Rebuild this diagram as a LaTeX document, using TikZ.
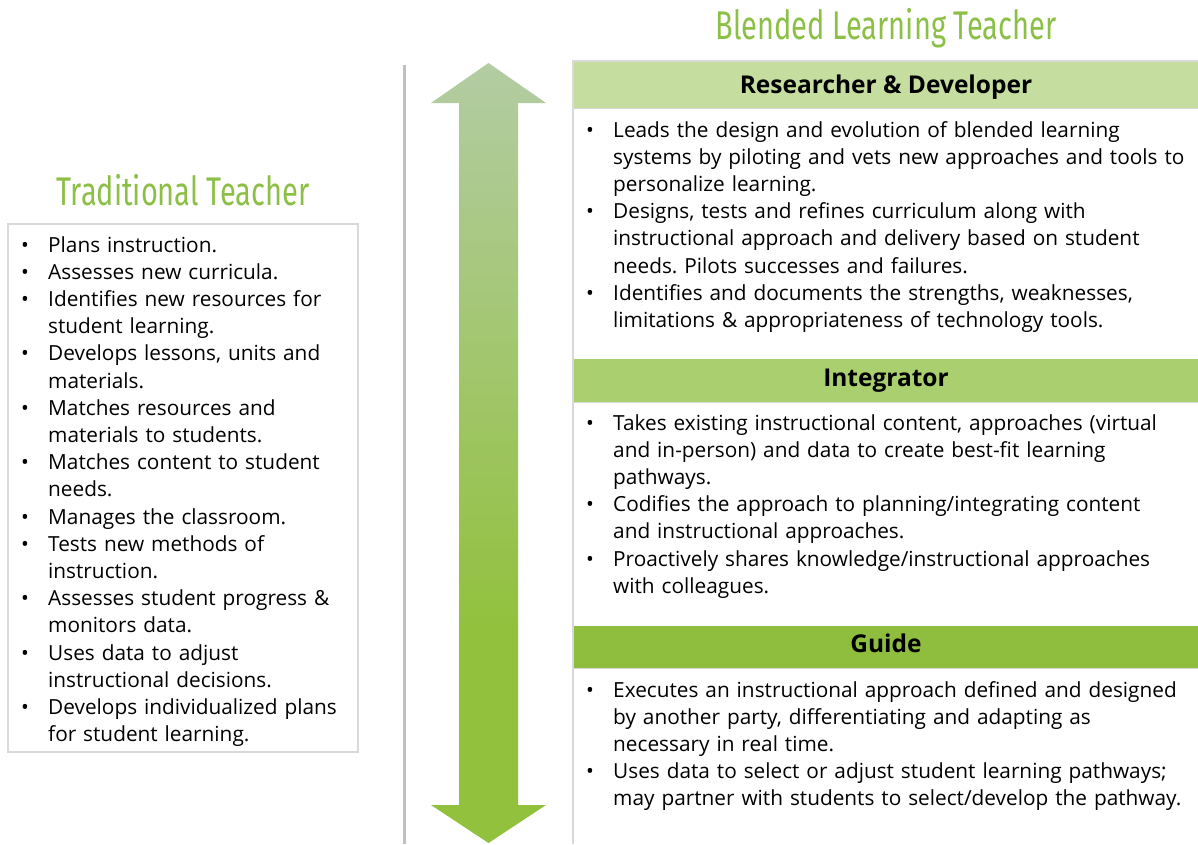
\documentclass[tikz,border=0pt]{standalone}
\usepackage{fontspec}
\setmainfont{Open Sans}
\newfontfamily\titlefont[FakeStretch=0.725]{Fira Sans}
\usetikzlibrary{positioning}
\frenchspacing

\definecolor{titlegreen}{HTML}{8CBF45}
\definecolor{headlight}{HTML}{C5DD9F}
\definecolor{headmid}{HTML}{A9CF6F}
\definecolor{headdark}{HTML}{8FBE3E}
\definecolor{arrowtop}{HTML}{B3CCA3}
\definecolor{arrowbot}{HTML}{92C13E}
\definecolor{framegray}{HTML}{D9D9D9}
\definecolor{dividergray}{HTML}{BFBFBF}

\pgfdeclareverticalshading{arrowfade}{100bp}{color(0bp)=(arrowbot); color(39bp)=(arrowbot); color(75bp)=(arrowtop); color(100bp)=(arrowtop)}

% bullet item with hanging indent
\newcommand\bul[1]{\hangindent=27pt\hangafter=1\noindent\makebox[27pt][l]{\textbullet}#1\par}

\tikzset{
	heading/.style={font=\titlefont\fontsize{40}{40}\selectfont, text=titlegreen, inner sep=0pt, anchor=base},
	bandtext/.style={font=\bfseries\fontsize{24.5}{28}\selectfont, inner sep=0pt, anchor=base},
	bullets/.style={font=\fontsize{20.8}{27.2}\selectfont, align=left, text width=620pt, inner sep=0pt, anchor=base west},
	boxline/.style={draw=framegray, line width=1.5pt},
	divider/.style={draw=dividergray, line width=3pt},
}

\begin{document}
\begin{tikzpicture}[x=1pt,y=-1pt]

	% ---- canvas

	\useasboundingbox (0,0) rectangle (1198,844);

	% ---- titles

	\node[heading] (tradtitle) at (183,205) {Traditional Teacher};
	\node[heading] (blendtitle) at (886,39) {Blended Learning Teacher};

	% ---- traditional teacher box

	\draw[boxline] (8,224) rectangle (358,752);

	\node[bullets] (tradlist) at (21,252) {%
		\bul{Plans instruction.}
		\bul{Assesses new curricula.}
		\bul{Identifies new resources for\newline student learning.}
		\bul{Develops lessons, units and\newline materials.}
		\bul{Matches resources and\newline materials to students.}
		\bul{Matches content to student\newline needs.}
		\bul{Manages the classroom.}
		\bul{Tests new methods of\newline instruction.}
		\bul{Assesses student progress \&\newline monitors data.}
		\bul{Uses data to adjust\newline instructional decisions.}
		\bul{Develops individualized plans\newline for student learning.}};

	% ---- divider and double arrow

	\draw[divider] (404,65) -- (404,844);

	\shade[shading=arrowfade] (488.5,63) -- (546,103) -- (518,103) -- (518,805) -- (546,805)
		-- (488.5,843) -- (431,805) -- (459,805) -- (459,103) -- (431,103) -- cycle;

	% ---- blended teacher panel

	\draw[boxline] (1198,61) -- (573,61) -- (573,844);

	\foreach \name/\top/\bot/\col/\base/\txt in {
		rdhead/62/108/headlight/93/Researcher \& Developer,
		inthead/359/402/headmid/386/Integrator,
		guidehead/626/668/headdark/652/Guide} {
		\fill[\col] (574,\top) rectangle (1198,\bot);
		\draw[framegray, line width=1pt] (574,\bot) -- (1198,\bot);
		\node[bandtext] (\name) at (886,\base) {\txt};
	}

	\node[bullets] (rdlist) at (586,137) {%
		\bul{Leads the design and evolution of blended learning\newline systems by piloting and vets new approaches and tools to\newline personalize learning.}
		\bul{Designs, tests and refines curriculum along with\newline instructional approach and delivery based on student\newline needs. Pilots successes and failures.}
		\bul{Identifies and documents the strengths, weaknesses,\newline limitations \& appropriateness of technology tools.}};

	\node[bullets] (intlist) at (586,430) {%
		\bul{Takes existing instructional content, approaches (virtual\newline and in-person) and data to create best-fit learning\newline pathways.}
		\bul{Codifies the approach to planning/integrating content\newline and instructional approaches.}
		\bul{Proactively shares knowledge/instructional approaches\newline with colleagues.}};

	\node[bullets] (guidelist) at (586,697) {%
		\bul{Executes an instructional approach defined and designed\newline by another party, differentiating and adapting as\newline necessary in real time.}
		\bul{Uses data to select or adjust student learning pathways;\newline may partner with students to select/develop the pathway.}};

\end{tikzpicture}
\end{document}
